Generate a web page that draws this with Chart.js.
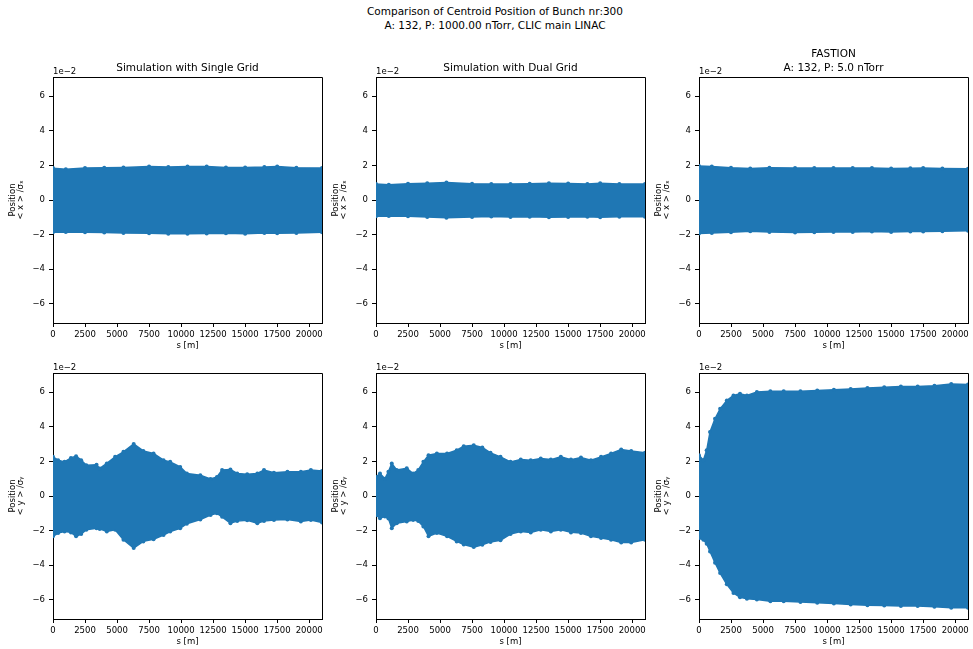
<!DOCTYPE html>
<html>
<head>
<meta charset="utf-8">
<script src="https://cdn.jsdelivr.net/npm/chart.js@4.4.1/dist/chart.umd.min.js"></script>
<style>
  html, body { margin: 0; padding: 0; background: #fff; width: 973px; height: 649px; overflow: hidden; }
  .panel { position: absolute; }
  .sup { position: absolute; left: 0; width: 990px; text-align: center; font-family: "DejaVu Sans", sans-serif; font-size: 10.5px; color: #000; line-height: 13px; }
</style>
</head>
<body>
<div class="sup" style="top:5px;">Comparison of Centroid Position of Bunch nr:300</div>
<div class="sup" style="top:18.5px;">A: 132, P: 1000.00 nTorr, CLIC main LINAC</div>

<div class="panel" style="left:0px;top:32px;"><canvas id="c1" width="334" height="323"></canvas></div>
<div class="panel" style="left:323px;top:32px;"><canvas id="c2" width="334" height="323"></canvas></div>
<div class="panel" style="left:646px;top:32px;"><canvas id="c3" width="334" height="323"></canvas></div>
<div class="panel" style="left:0px;top:328px;"><canvas id="c4" width="334" height="323"></canvas></div>
<div class="panel" style="left:323px;top:328px;"><canvas id="c5" width="334" height="323"></canvas></div>
<div class="panel" style="left:646px;top:328px;"><canvas id="c6" width="334" height="323"></canvas></div>

<script>
// ---- data (s in metres, envelope of centroid position in units of sigma) ----
const xTickValues = [0, 2500, 5000, 7500, 10000, 12500, 15000, 17500, 20000];

// Horizontal (x) panels: sampled envelope
const sTop = [0, 1000, 2500, 4000, 5500, 7500, 9000, 10500, 12000, 13500, 15000, 16500, 17500, 19000, 21000];
const singleXUpper = [0.0184, 0.0178, 0.0184, 0.0186, 0.0188, 0.0193, 0.0190, 0.0193, 0.0193, 0.0188, 0.0188, 0.0190, 0.0193, 0.0186, 0.0184];
const singleXLower = [-0.0186, -0.0184, -0.0186, -0.0188, -0.0190, -0.0192, -0.0195, -0.0195, -0.0193, -0.0192, -0.0195, -0.0190, -0.0192, -0.0190, -0.0186];
const dualXUpper = [0.0092, 0.0088, 0.0094, 0.0097, 0.0101, 0.0094, 0.0092, 0.0093, 0.0094, 0.0096, 0.0095, 0.0093, 0.0096, 0.0093, 0.0092];
const dualXLower = [-0.0094, -0.0092, -0.0094, -0.0098, -0.0103, -0.0098, -0.0095, -0.0098, -0.0097, -0.0099, -0.0098, -0.0096, -0.0099, -0.0097, -0.0096];
const fastionXUpper = [0.0196, 0.0194, 0.0186, 0.0182, 0.0186, 0.0185, 0.0184, 0.0185, 0.0184, 0.0184, 0.0182, 0.0183, 0.0184, 0.0182, 0.0180];
const fastionXLower = [-0.0194, -0.0190, -0.0186, -0.0180, -0.0185, -0.0188, -0.0186, -0.0185, -0.0184, -0.0182, -0.0184, -0.0182, -0.0182, -0.0180, -0.0178];

// Vertical (y) panels
const sSingleY = [0, 400, 900, 1400, 1800, 2200, 2600, 3400, 3650, 4200, 4850, 5500, 6300, 7050, 7850, 8630, 9150, 9930, 10450, 11500, 12300, 12800, 13200, 13850, 14380, 15160, 15950, 16470, 17250, 18300, 19350, 20130, 21000];
const singleYUpper = [0.0226, 0.0207, 0.0197, 0.0220, 0.0230, 0.0207, 0.0178, 0.0180, 0.0159, 0.0188, 0.0226, 0.0255, 0.0300, 0.0260, 0.0245, 0.0207, 0.0197, 0.0168, 0.0130, 0.0120, 0.0098, 0.0110, 0.0150, 0.0153, 0.0130, 0.0126, 0.0130, 0.0150, 0.0134, 0.0140, 0.0140, 0.0150, 0.0145];
const singleYLower = [-0.0233, -0.0214, -0.0205, -0.0210, -0.0233, -0.0220, -0.0195, -0.0186, -0.0190, -0.0205, -0.0195, -0.0253, -0.0300, -0.0262, -0.0250, -0.0225, -0.0205, -0.0186, -0.0160, -0.0136, -0.0110, -0.0100, -0.0120, -0.0157, -0.0145, -0.0140, -0.0157, -0.0145, -0.0138, -0.0135, -0.0147, -0.0138, -0.0153];

const sDualY = [0, 310, 700, 970, 1230, 1620, 2400, 2900, 3300, 3700, 4100, 4750, 5550, 6300, 6850, 7630, 8300, 8940, 9720, 10500, 11300, 12080, 12860, 13650, 14430, 15220, 16000, 16780, 17570, 18350, 19140, 19920, 21000];
const dualYUpper = [0.0110, 0.0130, 0.0100, 0.0140, 0.0188, 0.0150, 0.0160, 0.0130, 0.0150, 0.0197, 0.0235, 0.0245, 0.0245, 0.0264, 0.0287, 0.0293, 0.0280, 0.0249, 0.0226, 0.0197, 0.0210, 0.0207, 0.0216, 0.0210, 0.0226, 0.0210, 0.0222, 0.0207, 0.0226, 0.0245, 0.0268, 0.0260, 0.0249];
const dualYLower = [-0.0110, -0.0128, -0.0119, -0.0130, -0.0186, -0.0157, -0.0147, -0.0138, -0.0145, -0.0176, -0.0233, -0.0214, -0.0233, -0.0262, -0.0280, -0.0295, -0.0281, -0.0265, -0.0255, -0.0220, -0.0205, -0.0210, -0.0195, -0.0205, -0.0195, -0.0210, -0.0214, -0.0233, -0.0243, -0.0253, -0.0268, -0.0268, -0.0253];

const sFastionY = [0, 340, 600, 860, 1250, 1650, 2170, 2690, 3200, 3740, 4520, 5570, 6610, 7920, 9230, 10530, 11840, 13150, 14460, 15760, 17070, 18380, 19690, 21000];
const fastionYUpper = [0.0235, 0.0207, 0.0264, 0.0370, 0.0446, 0.0503, 0.0551, 0.0580, 0.0590, 0.0580, 0.0600, 0.0605, 0.0605, 0.0605, 0.0609, 0.0614, 0.0618, 0.0624, 0.0628, 0.0632, 0.0632, 0.0637, 0.0647, 0.0643];
const fastionYLower = [-0.0243, -0.0253, -0.0275, -0.0320, -0.0385, -0.0445, -0.0510, -0.0560, -0.0585, -0.0593, -0.0597, -0.0607, -0.0607, -0.0612, -0.0616, -0.0620, -0.0626, -0.0630, -0.0632, -0.0635, -0.0635, -0.0639, -0.0645, -0.0645];

const panelTitles = [
  ['Simulation with Single Grid'],
  ['Simulation with Dual Grid'],
  ['FASTION', 'A: 132, P: 5.0 nTorr'],
  [], [], []
];
const yLabelX = ['Position', '< x > /\u03c3\u2093'];
const yLabelY = ['Position', '< y > /\u03c3\u1d67'];
const offsetText = '1e\u22122';
const xLabel = 's [m]';

// ---- drawing ----
const BLUE = '#1f77b4';
const FONT = '"DejaVu Sans", sans-serif';
Chart.defaults.font.family = FONT;
Chart.defaults.color = '#000';

const framePlugin = {
  id: 'frame',
  afterDraw(chart, args, opts) {
    const {ctx, chartArea: a} = chart;
    ctx.save();
    ctx.strokeStyle = '#000';
    ctx.lineWidth = 1;
    ctx.beginPath();
    ctx.moveTo(a.left, a.top + 0.5);
    ctx.lineTo(a.right + 0.5, a.top + 0.5);
    ctx.lineTo(a.right + 0.5, a.bottom);
    ctx.stroke();
    ctx.fillStyle = '#000';
    ctx.font = '8.5px ' + FONT;
    ctx.textAlign = 'left';
    ctx.textBaseline = 'middle';
    ctx.fillText(offsetText, a.left, a.top - 5);
    const lines = opts.title || [];
    ctx.font = '10.5px ' + FONT;
    ctx.textAlign = 'center';
    const cx = (a.left + a.right) / 2;
    for (let i = 0; i < lines.length; i++) {
      const y = a.top - 9 - (lines.length - 1 - i) * 13.3;
      ctx.fillText(lines[i], cx, y);
    }
    ctx.restore();
  }
};

function fmtY(v) {
  const n = Math.round(v * 100);
  return n < 0 ? '\u2212' + (-n) : String(n);
}

function makeChart(id, xs, upper, lower, title, ylabel) {
  const up = xs.map((x, i) => ({x: x, y: upper[i]}));
  const lo = xs.map((x, i) => ({x: x, y: lower[i]}));
  const ds = (data, fill) => ({
    data: data,
    borderColor: BLUE,
    backgroundColor: BLUE,
    borderWidth: 1.5,
    pointRadius: 2,
    pointBorderWidth: 0,
    pointBackgroundColor: BLUE,
    fill: fill,
    tension: 0
  });
  return new Chart(document.getElementById(id), {
    type: 'line',
    data: { datasets: [ds(up, '+1'), ds(lo, false)] },
    options: {
      responsive: false,
      animation: false,
      devicePixelRatio: 1,
      layout: { padding: { left: 0, right: 12, top: 45, bottom: 0 } },
      plugins: { legend: { display: false }, tooltip: { enabled: false }, frame: { title: title } },
      scales: {
        x: {
          type: 'linear', min: 0, max: 21000,
          afterFit: (s) => { s.height = 32; },
          afterBuildTicks: (s) => { s.ticks = xTickValues.map(v => ({value: v})); },
          ticks: { callback: (v) => String(v), font: { size: 8.5 }, color: '#000', padding: 3, maxRotation: 0, autoSkip: false, includeBounds: false },
          grid: { display: true, drawOnChartArea: false, drawTicks: true, tickLength: 4, tickColor: '#000', tickWidth: 1 },
          border: { display: true, color: '#000', width: 1 },
          title: { display: true, text: xLabel, font: { size: 8.5 }, color: '#000', padding: { top: 0, bottom: 4 } }
        },
        y: {
          type: 'linear', min: -0.071, max: 0.071,
          afterFit: (s) => { s.width = 53; },
          ticks: { stepSize: 0.02, includeBounds: false, callback: fmtY, font: { size: 8.5 }, color: '#000', padding: 4 },
          grid: { display: true, drawOnChartArea: false, drawTicks: true, tickLength: 4, tickColor: '#000', tickWidth: 1 },
          border: { display: true, color: '#000', width: 1 },
          title: { display: true, text: ylabel, font: { size: 8.5, lineHeight: 0.95 }, color: '#000', padding: { top: 8.5, bottom: 0 } }
        }
      }
    },
    plugins: [framePlugin]
  });
}

makeChart('c1', sTop, singleXUpper, singleXLower, panelTitles[0], yLabelX);
makeChart('c2', sTop, dualXUpper, dualXLower, panelTitles[1], yLabelX);
makeChart('c3', sTop, fastionXUpper, fastionXLower, panelTitles[2], yLabelX);
makeChart('c4', sSingleY, singleYUpper, singleYLower, panelTitles[3], yLabelY);
makeChart('c5', sDualY, dualYUpper, dualYLower, panelTitles[4], yLabelY);
makeChart('c6', sFastionY, fastionYUpper, fastionYLower, panelTitles[5], yLabelY);
</script>
</body>
</html>
